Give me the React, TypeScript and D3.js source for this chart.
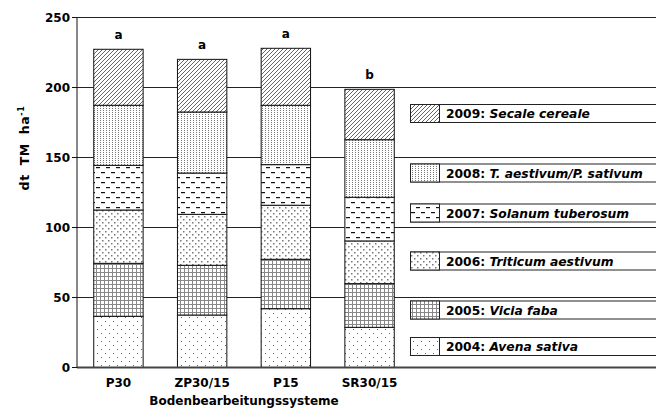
import React from 'react';
import * as d3 from 'd3';

const systems = ['P30', 'ZP30/15', 'P15', 'SR30/15'];
const years = ['2004', '2005', '2006', '2007', '2008', '2009'];
const crops = ['Avena sativa', 'Vicia faba', 'Triticum aestivum', 'Solanum tuberosum', 'T. aestivum/P. sativum', 'Secale cereale'];
// yield per year (dt TM/ha), order = systems
const y2004 = [36.6, 37.5, 42.0, 28.7];
const y2005 = [37.8, 35.5, 35.3, 31.2];
const y2006 = [38.1, 36.4, 38.6, 30.5];
const y2007 = [31.9, 29.5, 29.0, 31.2];
const y2008 = [42.9, 43.6, 42.4, 41.1];
const y2009 = [40.0, 37.6, 40.7, 36.0];
const letters = ['a', 'a', 'a', 'b'];
const yTicks = [0, 50, 100, 150, 200, 250];

const series = [y2004, y2005, y2006, y2007, y2008, y2009];
const patternIds = ['p2004', 'p2005', 'p2006', 'p2007', 'p2008', 'p2009'];
const legendY = [337.5, 301, 252, 204, 164, 104.5];

const font = '"DejaVu Sans", Arial, sans-serif';

export default function App() {
  const W = 656, H = 409;
  const x0 = 77, plotRight = 656;
  const y = d3.scaleLinear().domain([0, 250]).range([367.5, 17.5]);
  const x = d3.scaleBand().domain(systems).range([x0, x0 + 334]).paddingInner(0.41).paddingOuter(0.2);

  const stackData = systems.map((s, i) => {
    const row: any = { sys: s };
    years.forEach((yr, k) => { row[yr] = series[k][i]; });
    return row;
  });
  const stacked = d3.stack().keys(years)(stackData);

  return (
    <svg width={W} height={H} style={{ position: 'absolute', left: 0, top: 0, fontFamily: font }}>
      <defs>
        <pattern id="p2009" width="4" height="4" patternUnits="userSpaceOnUse">
          <rect width="4" height="4" fill="#fff" />
          <path d="M-1,5 L5,-1 M-1,1 L1,-1 M3,5 L5,3" stroke="#666" strokeWidth="1" />
        </pattern>
        <pattern id="p2008" width="3" height="2" patternUnits="userSpaceOnUse">
          <rect width="3" height="2" fill="#fff" />
          <rect x="1" y="0" width="1" height="1" fill="#777" />
        </pattern>
        <pattern id="p2007" width="10" height="10" patternUnits="userSpaceOnUse">
          <rect width="10" height="10" fill="#fff" />
          <rect x="1" y="2" width="4" height="1.2" fill="#111" />
          <rect x="6" y="7" width="4" height="1.2" fill="#111" />
        </pattern>
        <pattern id="p2006" width="6" height="6" patternUnits="userSpaceOnUse">
          <rect width="6" height="6" fill="#fff" />
          <rect x="0" y="0" width="1.5" height="1.5" fill="#777" />
          <rect x="3" y="3" width="1.5" height="1.5" fill="#777" />
        </pattern>
        <pattern id="p2005" width="4" height="4" patternUnits="userSpaceOnUse">
          <rect width="4" height="4" fill="#fff" />
          <path d="M0.5,0 V4 M0,0.5 H4" stroke="#888" strokeWidth="1" />
        </pattern>
        <pattern id="p2004" width="8" height="8" patternUnits="userSpaceOnUse">
          <rect width="8" height="8" fill="#fff" />
          <rect x="1" y="1" width="1" height="1" fill="#666" />
          <rect x="5" y="5" width="1" height="1" fill="#666" />
        </pattern>
      </defs>

      {/* grid lines */}
      {yTicks.filter(t => t > 0).map(t => (
        <line key={t} x1={x0} x2={plotRight} y1={y(t)} y2={y(t)} stroke="#222" strokeWidth={1} />
      ))}

      {/* bars */}
      {stacked.map((layer, k) => (
        <g key={layer.key}>
          {layer.map((d, i) => (
            <rect key={i} x={x(systems[i])!} width={x.bandwidth()} y={y(d[1])} height={y(d[0]) - y(d[1])}
              fill={`url(#${patternIds[k]})`} stroke="#111" strokeWidth={1} />
          ))}
        </g>
      ))}

      {/* significance letters */}
      {systems.map((s, i) => {
        const top = stacked[stacked.length - 1][i][1];
        return (
          <text key={s} x={x(s)! + x.bandwidth() / 2} y={y(top) - 10} textAnchor="middle" fontSize={12} fontWeight="bold">{letters[i]}</text>
        );
      })}

      {/* legend */}
      {years.map((yr, k) => (
        <g key={yr}>
          <rect x={410.5} y={legendY[k]} width={260} height={18} fill="#fff" stroke="#222" strokeWidth={1} />
          <rect x={410.5} y={legendY[k]} width={29} height={18} fill={`url(#${patternIds[k]})`} stroke="#222" strokeWidth={1} />
          <text x={446} y={legendY[k] + 13.5} fontSize={12.3} fontWeight="bold">
            {yr}: <tspan fontStyle="italic">{crops[k]}</tspan>
          </text>
        </g>
      ))}

      {/* axes */}
      <line x1={x0} x2={plotRight} y1={y(0)} y2={y(0)} stroke="#444" strokeWidth={2} />
      <line x1={x0} x2={x0} y1={y(250)} y2={y(0)} stroke="#111" strokeWidth={1} />
      {yTicks.map(t => (
        <g key={t}>
          <line x1={x0 - 5} x2={x0} y1={y(t)} y2={y(t)} stroke="#111" />
          <text x={x0 - 7} y={y(t) + 4.5} textAnchor="end" fontSize={12} fontWeight="bold">{t}</text>
        </g>
      ))}
      {systems.map(s => (
        <text key={s} x={x(s)! + x.bandwidth() / 2} y={387} textAnchor="middle" fontSize={12} fontWeight="bold">{s}</text>
      ))}
      <text x={244} y={405} textAnchor="middle" fontSize={12} fontWeight="bold">Bodenbearbeitungssysteme</text>
      <text transform="translate(29,148) rotate(-90)" textAnchor="middle" fontSize={12.5} fontWeight="bold" letterSpacing={0.6} wordSpacing={4}>
        dt TM ha<tspan fontSize={8} dy={-5}>-1</tspan>
      </text>
    </svg>
  );
}
